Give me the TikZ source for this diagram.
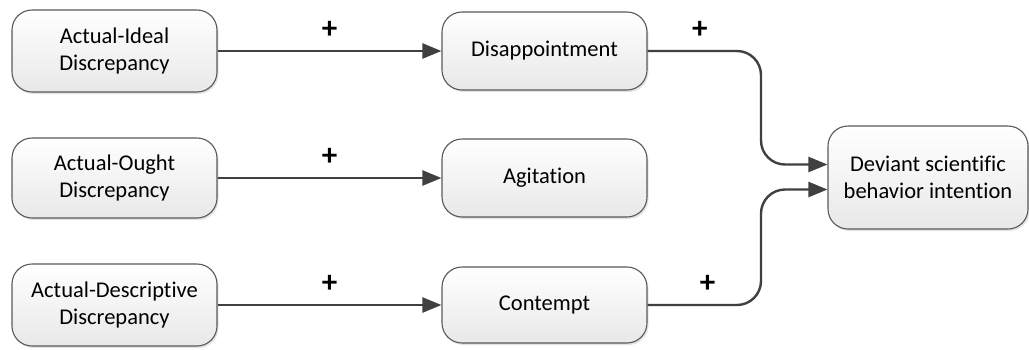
\documentclass[tikz,border=0pt]{standalone}
\usepackage{fontspec}
\setmainfont{Carlito}[Ligatures={NoCommon}]
\usetikzlibrary{arrows.meta,shadows,calc}
\begin{document}
\begin{tikzpicture}[x=1pt,y=-1pt,
  box/.style={draw=black!65, line width=1.1pt, rounded corners=20pt,
    top color=white, bottom color=black!9, align=center,
    font=\fontsize{22.5}{27.5}\selectfont, text=black,
    inner sep=0pt,
    drop shadow={opacity=0.22, shadow xshift=1.5pt, shadow yshift=-2pt}},
  conn/.style={draw=black!75, line width=2.4pt,
    -{Triangle[length=19pt,width=15pt]}},
  plus/.style={font=\fontsize{31}{31}\selectfont\bfseries, text=black, inner sep=0pt}
]
\useasboundingbox (0,0) rectangle (1029,349);
% left column
\node[box, minimum width=205pt, minimum height=82pt] (aid) at (114.5,51) {Actual-Ideal\\Discrepancy};
\node[box, minimum width=205pt, minimum height=80pt] (aod) at (114.5,178) {Actual-Ought\\Discrepancy};
\node[box, minimum width=205pt, minimum height=82pt] (ade) at (114.5,305) {Actual-Descriptive\\Discrepancy};
% middle column
\node[box, minimum width=205pt, minimum height=78pt] (dis) at (544.5,51) {Disappointment};
\node[box, minimum width=205pt, minimum height=78pt] (agi) at (544.5,178) {Agitation};
\node[box, minimum width=205pt, minimum height=76pt] (con) at (544.5,305) {Contempt};
% right
\node[box, minimum width=200pt, minimum height=103pt] (dev) at (928,177.5) {Deviant scientific\\behavior intention};
% connectors
\draw[conn] (aid.east) -- node[plus, above=11pt]{+} (dis.west);
\draw[conn] (aod.east) -- node[plus, above=11pt]{+} (agi.west);
\draw[conn] (ade.east) -- node[plus, above=11pt]{+} (con.west);
\coordinate (jx) at (761,0);
\coordinate (din1) at ([yshift=13pt]dev.west);
\coordinate (din2) at ([yshift=-12pt]dev.west);
\draw[conn, rounded corners=24pt] (dis.east) -- node[plus, above=11pt, pos=0.46]{+} (dis.east -| jx) -- (jx |- din1) -- (din1);
\draw[conn, rounded corners=24pt] (con.east) -- node[plus, above=11pt, pos=0.53]{+} (con.east -| jx) -- (jx |- din2) -- (din2);
\end{tikzpicture}
\end{document}
